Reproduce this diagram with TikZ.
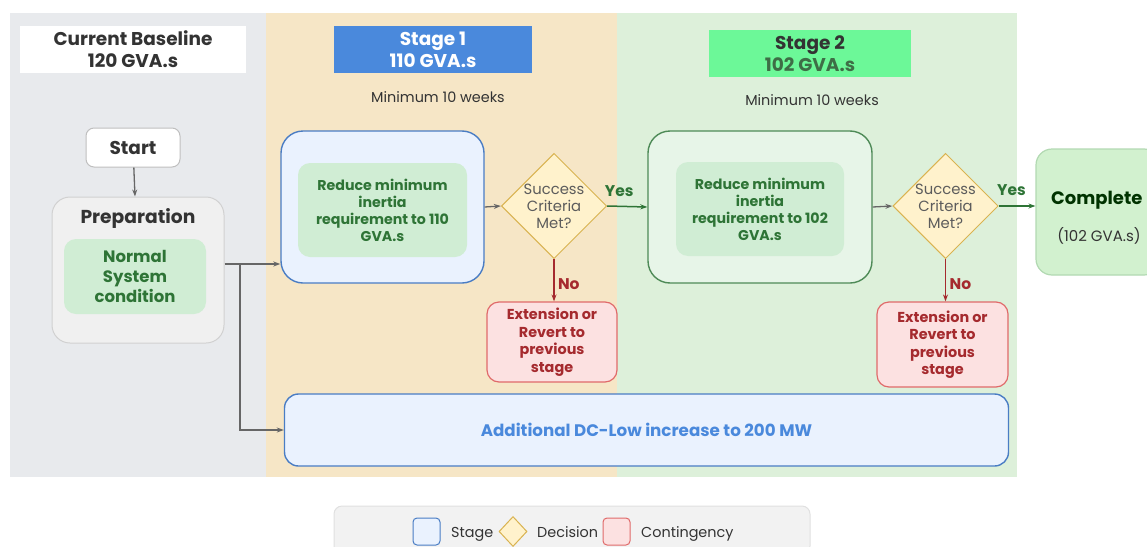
\documentclass[tikz,border=0pt]{standalone}
\usepackage{fontspec}
\setmainfont{Poppins}
\usetikzlibrary{shapes.geometric,arrows.meta}

\definecolor{panelgray}{HTML}{E8EAED}
\definecolor{paneltan}{HTML}{F6E6C6}
\definecolor{panelgreen}{HTML}{DDF0DA}
\definecolor{stageblue}{HTML}{4A89DC}
\definecolor{stagegreen}{HTML}{6CF898}
\definecolor{innergreen}{HTML}{D0EDD4}
\definecolor{textgreen}{HTML}{2E7436}
\definecolor{bluefill}{HTML}{EAF2FE}
\definecolor{blueline}{HTML}{4A7DC4}
\definecolor{greenfill}{HTML}{E7F5E8}
\definecolor{greenline}{HTML}{4E8A57}
\definecolor{decfill}{HTML}{FFF2CC}
\definecolor{decline}{HTML}{D9B350}
\definecolor{redfill}{HTML}{FCE1E1}
\definecolor{redline}{HTML}{E06A6A}
\definecolor{redtext}{HTML}{A52A2E}
\definecolor{arrowgray}{HTML}{666666}
\definecolor{darktext}{HTML}{333333}

\tikzset{
  titlebox/.style={minimum height=47pt, inner sep=0pt, align=center,
    font=\fontsize{18.5}{22}\selectfont\bfseries},
  note/.style={font=\fontsize{14.4}{16}\selectfont, text=darktext},
  roundbox/.style={rounded corners=14pt, minimum width=#1, inner sep=0pt},
  innerbox/.style={fill=innergreen, rounded corners=12pt, align=center, inner sep=0pt,
    text=textgreen, font=\fontsize{14.2}{17}\selectfont\bfseries},
  decision/.style={diamond, draw=decline, fill=decfill, line width=1pt, inner sep=0pt,
    minimum width=102pt, minimum height=103pt, align=center, text=darktext!80,
    font=\fontsize{14.8}{17}\selectfont},
  contingency/.style={draw=redline, fill=redfill, line width=1.2pt, rounded corners=12pt,
    inner sep=0pt, align=center, text=redtext, font=\fontsize{14.4}{17.5}\selectfont\bfseries},
  flow/.style={draw=arrowgray, line width=1.3pt, -{Stealth[length=7pt,width=5pt]}},
  yesflow/.style={draw=textgreen, line width=1.5pt, -{Stealth[length=7pt,width=5pt]}},
  noflow/.style={draw=redtext, line width=1.5pt, -{Stealth[length=7pt,width=5pt]}},
  answer/.style={font=\fontsize{15.5}{17}\selectfont\bfseries}
}

\begin{document}
\begin{tikzpicture}[x=1pt,y=-1pt]
\useasboundingbox (0,0) rectangle (1147,546);

% panels
\fill[panelgray] (10,13) rectangle (266,477);
\fill[paneltan] (266,13) rectangle (617,477);
\fill[panelgreen] (617,13) rectangle (1017,477);

\node[titlebox, fill=white, minimum width=226pt, text=darktext] (base) at (133,49.5) {Current Baseline\\120 GVA.s};
\node[titlebox, fill=stageblue, minimum width=198pt, text=white] (st1) at (433,49.5) {Stage 1\\110 GVA.s};
\node[titlebox, fill=stagegreen, minimum width=202pt, text=darktext] (st2) at (810,53.5) {Stage 2\\\textcolor{greenline!80!black}{102 GVA.s}};
\node[note] (min1) at (438,97) {Minimum 10 weeks};
\node[note] (min2) at (812,100) {Minimum 10 weeks};

% start and preparation
\node[roundbox=94pt, minimum height=39pt, rounded corners=8pt, draw=black!25, fill=white, line width=1pt,
  text=darktext, font=\fontsize{18.5}{20}\selectfont\bfseries] (start) at (133,147.5) {Start};
\node[roundbox=172pt, minimum height=146pt, rounded corners=18pt, draw=black!18, fill=black!6, line width=1pt] (prep) at (138,270) {};
\node[text=darktext, font=\fontsize{18.7}{21}\selectfont\bfseries] (preptitle) at (138,218) {Preparation};
\node[innerbox, minimum width=142pt, minimum height=75pt, font=\fontsize{16.5}{20}\selectfont\bfseries] (normal) at (135,276.5) {Normal\\System\\condition};

% stage 1
\node[roundbox=203pt, minimum height=152pt, rounded corners=22pt, draw=blueline, fill=bluefill, line width=1.4pt] (s1box) at (382.5,207) {};
\node[innerbox, minimum width=169pt, minimum height=94pt] (reduce1) at (382.5,210) {Reduce minimum\\inertia\\requirement to 110\\GVA.s};
\node[decision] (d1) at (554,206) {Success\\Criteria\\Met?};
\node[contingency, minimum width=130pt, minimum height=80pt] (c1) at (552,342) {Extension or\\Revert to\\previous\\stage};

% stage 2
\node[roundbox=224pt, minimum height=152pt, rounded corners=22pt, draw=greenline, fill=greenfill, line width=1.4pt] (s2box) at (760,207) {};
\node[innerbox, minimum width=168pt, minimum height=94pt] (reduce2) at (760,209) {Reduce minimum\\inertia\\requirement to 102\\GVA.s};
\node[decision] (d2) at (945.5,206) {Success\\Criteria\\Met?};
\node[contingency, minimum width=131pt, minimum height=85pt] (c2) at (942.5,344.5) {Extension or\\Revert to\\previous\\stage};

% complete
\node[roundbox=124pt, minimum height=126pt, rounded corners=16pt, draw=green!50!black!30, fill=panelgreen!95!green, line width=1.2pt] (comp) at (1098,212) {};
\node[text=black!80!green, font=\fontsize{18}{20}\selectfont\bfseries, anchor=west, inner sep=0pt] (comptitle) at (1051,200) {Complete};
\node[note, font=\fontsize{15}{17}\selectfont] (compsub) at (1099,236) {(102 GVA.s)};

% additional
\node[roundbox=724pt, minimum height=72pt, rounded corners=14pt, draw=blueline, fill=bluefill, line width=1.4pt,
  text=stageblue, font=\fontsize{16.7}{19}\selectfont\bfseries] (add) at (646.5,430) {Additional DC-Low increase to 200 MW};

% legend
\node[roundbox=476pt, minimum height=48pt, rounded corners=8pt, draw=black!12, fill=black!5, line width=1pt] (legend) at (572,530) {};
\node[draw=blueline, fill=bluefill, rounded corners=4pt, line width=1pt, minimum width=27pt, minimum height=27pt, inner sep=0pt] (legstage) at (426.5,531.5) {};
\node[note, anchor=base west, inner sep=0pt] (legstagetxt) at (451,537) {Stage};
\node[diamond, draw=decline, fill=decfill, line width=1pt, minimum width=28pt, minimum height=30pt, inner sep=0pt] (legdec) at (513,531.5) {};
\node[note, anchor=base west, inner sep=0pt] (legdectxt) at (537,537) {Decision};
\node[draw=redline, fill=redfill, rounded corners=4pt, line width=1pt, minimum width=27pt, minimum height=27pt, inner sep=0pt] (legcont) at (616.5,531.5) {};
\node[note, anchor=base west, inner sep=0pt] (legconttxt) at (641,537) {Contingency};

% connectors
\draw[flow] (start) -- (prep);
\draw[flow] ([yshift=6pt]prep.east) -- ([yshift=6pt]prep.east -| s1box.west);
\coordinate (branch) at ([yshift=6pt]prep.east -| 240,0);
\draw[flow] (branch) |- (add.west);
\draw[flow] (s1box.east) -- (d1.west);
\draw[yesflow] (d1.east) -- node[answer, text=textgreen, above=6pt, pos=0.3] {Yes} (s2box.west);
\draw[noflow] (d1.south) -- node[answer, text=redtext, right, pos=0.6] {No} (d1.south |- c1.north);
\draw[flow] (s2box.east) -- (d2.west);
\draw[yesflow] (d2.east) -- node[answer, text=textgreen, above=6pt, pos=0.35] {Yes} (d2.east -| comp.west);
\draw[noflow] (d2.south) -- node[answer, text=redtext, right, pos=0.6] {No} (d2.south |- c2.north);
\end{tikzpicture}
\end{document}
